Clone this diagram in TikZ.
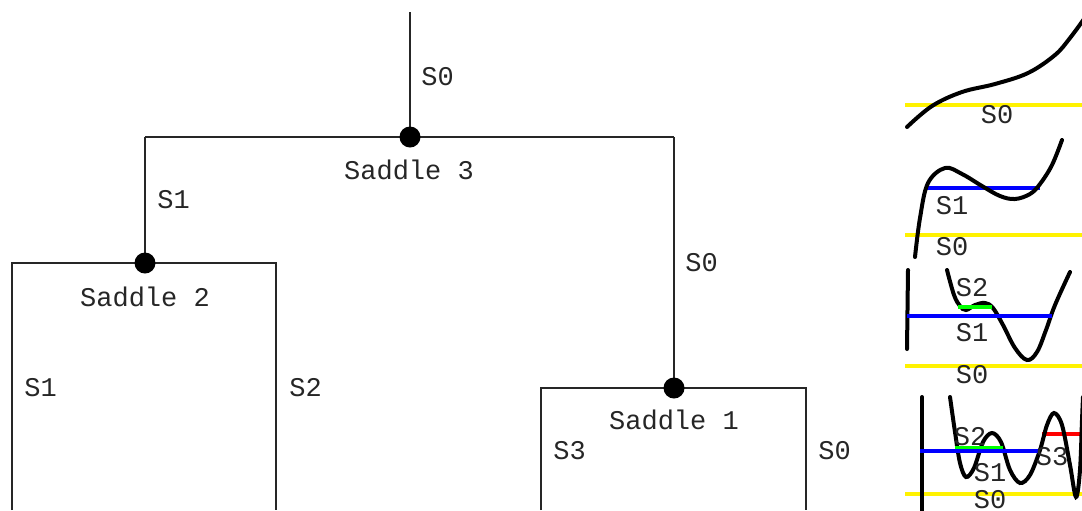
\documentclass[tikz,border=0pt]{standalone}
\usepackage{fontspec}
\setmonofont{Liberation Mono}
\begin{document}
\begin{tikzpicture}[x=0.5pt,y=-0.5pt,
  tree/.style={line width=0.6pt,draw=black!85},
  dot/.style={circle,fill=black,inner sep=0pt,minimum size=10.5pt},
  lbl/.style={inner sep=0pt,font=\ttfamily\fontsize{13.5}{15}\selectfont,text=black!85},
  curve/.style={line width=2pt,line cap=round},
  level/.style={line width=1.6pt}]
\useasboundingbox (0,0) rectangle (1082,510);

% ---- merge tree ----
\coordinate (root) at (410,12);
\coordinate (l3) at (145,137);
\coordinate (r3) at (674,137);
\coordinate (l2) at (12,263);
\coordinate (r2) at (276,263);
\coordinate (l2b) at (12,510);
\coordinate (r2b) at (276,510);
\coordinate (l1) at (541,388);
\coordinate (r1) at (806,388);
\coordinate (l1b) at (541,510);
\coordinate (r1b) at (806,510);

% saddle positions (placed first so the branches can refer to them)
\coordinate (s3) at (410,137);
\coordinate (s2) at (145,263);
\coordinate (s1) at (674,388);

\draw[tree] (root) -- (s3);
\draw[tree] (l3) -- (r3);
\draw[tree] (l3) -- (s2);
\draw[tree] (r3) -- (s1);
\draw[tree] (l2b) -- (l2) -- (r2) -- (r2b);
\draw[tree] (l1b) -- (l1) -- (r1) -- (r1b);

% saddle dots on top of the branches
\node[dot] (d3) at (s3) {};
\node[dot] (d2) at (s2) {};
\node[dot] (d1) at (s1) {};

\node[lbl,anchor=west] (t0) at (421,77) {S0};
\node[lbl] (t3) at (409,170) {Saddle 3};
\node[lbl,anchor=west] (t31) at (157,200) {S1};
\node[lbl,anchor=west] (t30) at (685,263) {S0};
\node[lbl] (t2) at (145,297) {Saddle 2};
\node[lbl,anchor=west] (t21) at (24,388) {S1};
\node[lbl,anchor=west] (t22) at (289,388) {S2};
\node[lbl] (t1) at (674,420) {Saddle 1};
\node[lbl,anchor=west] (t13) at (553,451) {S3};
\node[lbl,anchor=west] (t10) at (818,451) {S0};

% ---- level-set sketches ----
\begin{scope}
\clip (895,0) rectangle (1082,510);
% panel 1
\draw[level,yellow] (905,105) -- (1082,105);
\draw[curve] plot[smooth,tension=0.6] coordinates {(907,127) (932,106) (962,92) (995,84) (1028,73) (1055,55) (1070,38) (1084,19)};
\node[lbl] at (997,115) {S0};

% panel 2
\draw[level,yellow] (905,235) -- (1082,235);
\draw[level,blue] (927,188) -- (1040,188);
\draw[curve] plot[smooth,tension=0.6] coordinates {(915,257) (920,218) (928,183) (945,168) (962,174) (982,186) (1000,196) (1015,199) (1030,194) (1040,184) (1052,165) (1062,140)};
\node[lbl] at (952,206) {S1};
\node[lbl] at (952,247) {S0};

% panel 3
\draw[level,yellow] (905,366) -- (1082,366);
\draw[curve] (908,270) -- (907,349);
\draw[curve] plot[smooth,tension=0.6] coordinates {(947,270) (954,295) (960,306) (966,310) (975,305) (985,303) (993,308) (1003,325) (1015,348) (1027,360) (1037,352) (1046,330) (1055,305) (1070,272)};
\draw[level,green] (958,307) -- (992,307);
\draw[level,blue] (907,316) -- (1052,316);
\node[lbl] at (972,288) {S2};
\node[lbl] at (972,333) {S1};
\node[lbl] at (972,375) {S0};

% panel 4
\draw[level,yellow] (905,494) -- (1082,494);
\draw[level,red] (1042,434) -- (1082,434);
\draw[curve] (922,397) -- (922,512);
\draw[curve] plot[smooth,tension=0.55] coordinates {(950,397) (955,432) (960,463) (966,477) (974,468) (983,442) (992,433) (1001,442) (1010,470) (1020,483) (1030,475) (1040,450) (1047,425) (1054,413) (1062,425) (1070,465) (1076,497) (1080,470) (1082,420) (1083,397)};
\draw[level,green] (955,448) -- (1003,448);
\draw[level,blue] (920,451) -- (1038,451);
\node[lbl] at (970,437) {S2};
\node[lbl] at (990,473) {S1};
\node[lbl] at (1052,457) {S3};
\node[lbl] at (990,500) {S0};
\end{scope}
\end{tikzpicture}
\end{document}
